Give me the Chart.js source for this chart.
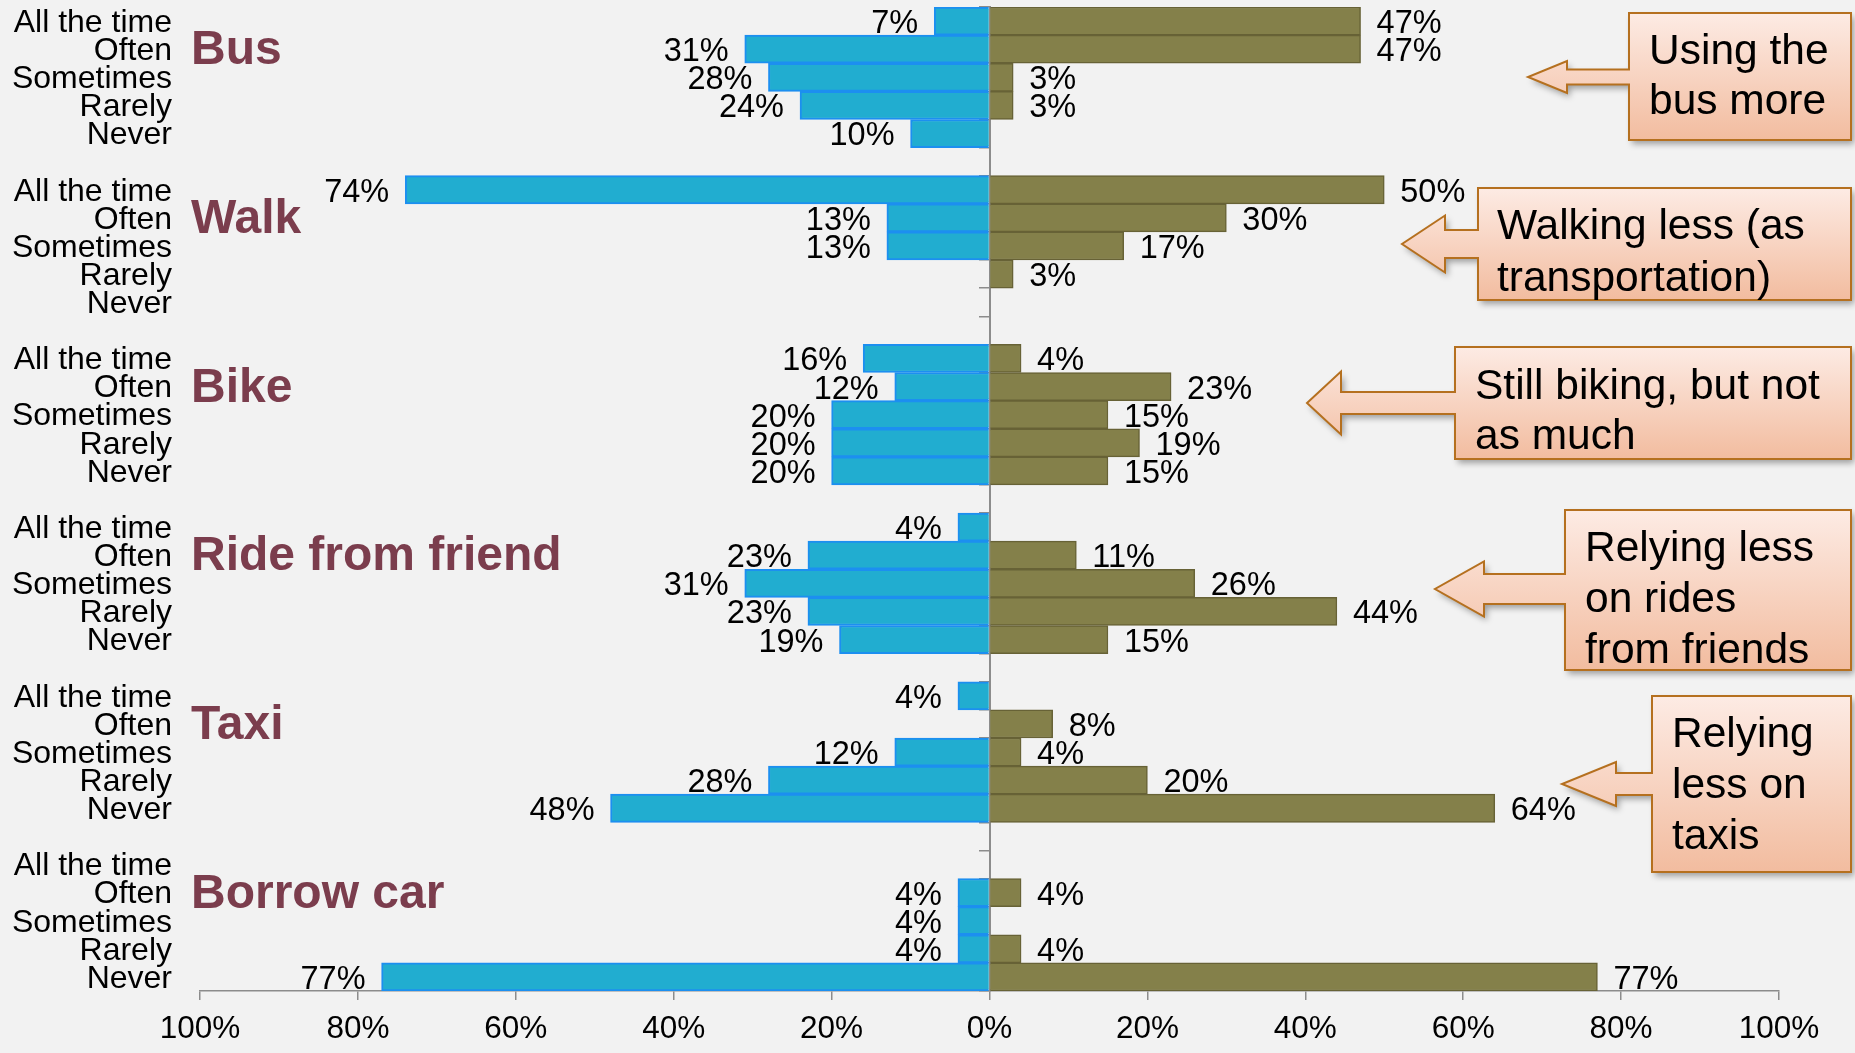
<!DOCTYPE html>
<html>
<head>
<meta charset="utf-8">
<title>Transportation use</title>
<script src="https://cdn.jsdelivr.net/npm/chart.js@4.4.1/dist/chart.umd.min.js"></script>
<style>
  html, body { margin: 0; padding: 0; background: #f2f2f2; }
  #wrap { width: 1855px; height: 1053px; }
</style>
</head>
<body>
<div id="wrap"><canvas id="grafico" width="1855" height="1053"></canvas></div>
<script>
// modos de transporte y frecuencias (una fila por frecuencia, una fila vacía entre modos)
const modes = ["Bus", "Walk", "Bike", "Ride from friend", "Taxi", "Borrow car"];
const frequencies = ["All the time", "Often", "Sometimes", "Rarely", "Never"];

// porcentajes por modo, en el orden de frequencies
const earlierShares = [
  [7, 31, 28, 24, 10],
  [74, 13, 13, 0, 0],
  [16, 12, 20, 20, 20],
  [4, 23, 31, 23, 19],
  [4, 0, 12, 28, 48],
  [0, 4, 4, 4, 77]
];
const nowShares = [
  [47, 47, 3, 3, 0],
  [50, 30, 17, 3, 0],
  [4, 23, 15, 19, 15],
  [0, 11, 26, 44, 15],
  [0, 8, 4, 20, 64],
  [0, 4, 0, 4, 77]
];

const xTicks = [-100, -80, -60, -40, -20, 0, 20, 40, 60, 80, 100];

const callouts = [
  { lines: ["Using the", "bus more"], x: 1629, y: 13, w: 222, h: 127, tipX: 1528, tipY: 77, baseX: 1567, head: 16, shaft: 7.5, textX: 1649, firstLine: 64, step: 50 },
  { lines: ["Walking less (as", "transportation)"], x: 1478, y: 188, w: 373, h: 112, tipX: 1402, tipY: 244, baseX: 1445, head: 28.5, shaft: 14, textX: 1497, firstLine: 239, step: 52 },
  { lines: ["Still biking, but not", "as much"], x: 1455, y: 347, w: 396, h: 112, tipX: 1307, tipY: 403, baseX: 1341, head: 31.5, shaft: 11, textX: 1475, firstLine: 399, step: 50 },
  { lines: ["Relying less", "on rides", "from friends"], x: 1565, y: 510, w: 286, h: 160, tipX: 1435, tipY: 589, baseX: 1484, head: 27.5, shaft: 15, textX: 1585, firstLine: 561, step: 51 },
  { lines: ["Relying", "less on", "taxis"], x: 1652, y: 696, w: 199, h: 176, tipX: 1562, tipY: 784, baseX: 1616, head: 22, shaft: 11, textX: 1672, firstLine: 747, step: 51 }
];

const FONT = '"Liberation Sans", Arial, sans-serif';
Chart.defaults.font.family = FONT;
Chart.defaults.color = "#000";

// armar categorías y datos planos
const categories = [];
const earlierData = [];
const nowData = [];
modes.forEach((m, i) => {
  if (i > 0) {
    categories.push("");
    earlierData.push(null);
    nowData.push(null);
  }
  frequencies.forEach((f, j) => {
    categories.push(f);
    const a = earlierShares[i][j];
    const b = nowShares[i][j];
    earlierData.push(a ? -a : null);
    nowData.push(b ? b : null);
  });
});

// etiquetas de porcentaje junto a cada barra
const valueLabels = {
  id: "valueLabels",
  afterDatasetsDraw(chart) {
    const ctx = chart.ctx;
    ctx.save();
    ctx.font = "32.5px " + FONT;
    ctx.fillStyle = "#000";
    ctx.textBaseline = "middle";
    chart.data.datasets.forEach((ds, i) => {
      chart.getDatasetMeta(i).data.forEach((bar, j) => {
        const v = ds.data[j];
        if (v == null) return;
        const neg = v < 0;
        ctx.textAlign = neg ? "right" : "left";
        ctx.fillText(Math.abs(v) + "%", bar.x + (neg ? -16 : 16), bar.y + 3);
      });
    });
    ctx.restore();
  }
};

// nombre del modo a la altura de la fila "Often"
const modeTitles = {
  id: "modeTitles",
  afterDraw(chart) {
    const ctx = chart.ctx;
    const y = chart.scales.y;
    ctx.save();
    ctx.font = "bold 48px " + FONT;
    ctx.fillStyle = "#7b3d4d";
    ctx.textAlign = "left";
    ctx.textBaseline = "middle";
    modes.forEach((m, i) => {
      ctx.fillText(m, 191, y.getPixelForValue(i * 6 + 1) + 2);
    });
    ctx.restore();
  }
};

// cuadros con flecha a la derecha
const arrowBoxes = {
  id: "arrowBoxes",
  afterDraw(chart) {
    const ctx = chart.ctx;
    callouts.forEach(c => {
      ctx.save();
      ctx.beginPath();
      ctx.moveTo(c.x, c.y);
      ctx.lineTo(c.x + c.w, c.y);
      ctx.lineTo(c.x + c.w, c.y + c.h);
      ctx.lineTo(c.x, c.y + c.h);
      ctx.lineTo(c.x, c.tipY + c.shaft);
      ctx.lineTo(c.baseX, c.tipY + c.shaft);
      ctx.lineTo(c.baseX, c.tipY + c.head);
      ctx.lineTo(c.tipX, c.tipY);
      ctx.lineTo(c.baseX, c.tipY - c.head);
      ctx.lineTo(c.baseX, c.tipY - c.shaft);
      ctx.lineTo(c.x, c.tipY - c.shaft);
      ctx.closePath();

      const grad = ctx.createLinearGradient(0, c.y, 0, c.y + c.h);
      grad.addColorStop(0, "#fdebe4");
      grad.addColorStop(1, "#f2bc9f");
      ctx.shadowColor = "rgba(0,0,0,0.35)";
      ctx.shadowBlur = 6;
      ctx.shadowOffsetX = 3;
      ctx.shadowOffsetY = 4;
      ctx.fillStyle = grad;
      ctx.fill();
      ctx.shadowColor = "transparent";
      ctx.lineWidth = 2;
      ctx.strokeStyle = "#b5701f";
      ctx.stroke();

      ctx.fillStyle = "#000";
      ctx.font = "42.5px " + FONT;
      ctx.textAlign = "left";
      ctx.textBaseline = "alphabetic";
      c.lines.forEach((t, k) => ctx.fillText(t, c.textX, c.firstLine + k * c.step));
      ctx.restore();
    });
  }
};

new Chart(document.getElementById("grafico"), {
  type: "bar",
  data: {
    labels: categories,
    datasets: [
      {
        label: "Earlier",
        data: earlierData,
        backgroundColor: "#21add0",
        borderColor: "#1c8ff0",
        borderWidth: 2,
        categoryPercentage: 1,
        barPercentage: 1
      },
      {
        label: "Now",
        data: nowData,
        backgroundColor: "#84804a",
        borderColor: "#676236",
        borderWidth: 1.5,
        categoryPercentage: 1,
        barPercentage: 1
      }
    ]
  },
  options: {
    indexAxis: "y",
    responsive: false,
    animation: false,
    events: [],
    layout: { padding: { top: 7, right: 76, bottom: 0, left: 0 } },
    plugins: { legend: { display: false }, tooltip: { enabled: false } },
    scales: {
      x: {
        stacked: true,
        min: -100,
        max: 100,
        z: 1,
        afterBuildTicks: s => { s.ticks = xTicks.map(v => ({ value: v })); },
        afterFit: s => { s.height = 62; },
        grid: { drawOnChartArea: false, drawTicks: true, tickLength: 9, color: "#8c8c8c", lineWidth: 1.5 },
        border: { color: "#8c8c8c", width: 1.5 },
        ticks: {
          font: { size: 31.5 },
          padding: 10,
          maxRotation: 0,
          callback: v => Math.abs(v) + "%"
        }
      },
      y: {
        stacked: true,
        afterFit: s => { s.width = 200; s.paddingTop = 0; s.paddingBottom = 0; },
        grid: { display: false, drawTicks: false },
        border: { display: false },
        ticks: { autoSkip: false, font: { size: 32, lineHeight: 1 }, padding: 28, labelOffset: 2 }
      },
      y2: {
        type: "category",
        axis: "y",
        position: { x: 0 },
        offset: true,
        z: 1,
        grid: { offset: true, drawOnChartArea: false, drawTicks: true, tickLength: 10, color: "#8c8c8c", lineWidth: 1.5 },
        border: { color: "#8c8c8c", width: 2 },
        ticks: { display: false }
      }
    }
  },
  plugins: [valueLabels, modeTitles, arrowBoxes]
});
</script>
</body>
</html>
